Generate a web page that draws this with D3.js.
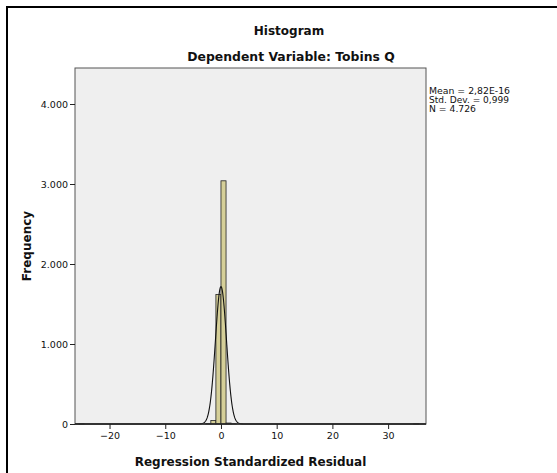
<!DOCTYPE html>
<html>
<head>
<meta charset="utf-8">
<script src="https://cdn.jsdelivr.net/npm/d3@7/dist/d3.min.js"></script>
<style>
  html, body { margin: 0; padding: 0; background: #fff; }
  svg { display: block; }
  text { font-family: "DejaVu Sans", sans-serif; fill: #111; }
</style>
</head>
<body>
<svg id="chart" width="557" height="473"></svg>
<script>
// Histogram bins: left edge of each bin (in residual units) and its frequency
const binWidth = 0.91;
const binStarts = [-25.48, -2.73, -1.82, -0.91, 0.0, 0.91, 1.82, 34.58];
const binCounts = [1, 4, 44, 1620, 3040, 12, 3, 2];

// Summary statistics shown in the legend
const statMean = 2.82e-16;
const statSD = 0.999;
const statN = 4726;
const statLabels = ["Mean = 2,82E-16", "Std. Dev. = 0,999", "N = 4.726"];

// Axis ticks
const xTicks = [-20, -10, 0, 10, 20, 30];
const yTicks = [0, 1000, 2000, 3000, 4000];
const yTickLabels = ["0", "1.000", "2.000", "3.000", "4.000"];

const svg = d3.select("#chart");
const plot = { left: 75, right: 426, top: 68, bottom: 424 };

const x = d3.scaleLinear().domain([-26.2, 36.8]).range([plot.left, plot.right]);
const y = d3.scaleLinear().domain([0, 4450]).range([plot.bottom, plot.top]);

// Outer frame
svg.append("rect")
  .attr("x", 7).attr("y", 7).attr("width", 700).attr("height", 700)
  .attr("fill", "none").attr("stroke", "#000").attr("stroke-width", 2);

// Plot background
svg.append("rect")
  .attr("x", plot.left).attr("y", plot.top)
  .attr("width", plot.right - plot.left).attr("height", plot.bottom - plot.top)
  .attr("fill", "#efefef");

// Bars
const bins = binStarts.map((s, i) => ({ x0: s, x1: s + binWidth, n: binCounts[i] }));
svg.append("g").selectAll("rect").data(bins).join("rect")
  .attr("x", d => x(d.x0))
  .attr("y", d => y(d.n))
  .attr("width", d => x(d.x1) - x(d.x0))
  .attr("height", d => y(0) - y(d.n))
  .attr("fill", "#d5cf98")
  .attr("stroke", "#222")
  .attr("stroke-width", 0.8);

// Fitted normal curve from the reported mean, SD and N
const pdf = v => Math.exp(-0.5 * ((v - statMean) / statSD) ** 2) / (statSD * Math.sqrt(2 * Math.PI));
const curvePts = d3.range(-26.2, 36.8001, 0.05).map(v => [v, statN * binWidth * pdf(v)]);
svg.append("path")
  .datum(curvePts)
  .attr("fill", "none")
  .attr("stroke", "#111")
  .attr("stroke-width", 1.1)
  .attr("d", d3.line().x(d => x(d[0])).y(d => y(d[1])));

// Plot border
svg.append("rect")
  .attr("x", plot.left).attr("y", plot.top)
  .attr("width", plot.right - plot.left).attr("height", plot.bottom - plot.top)
  .attr("fill", "none").attr("stroke", "#555").attr("stroke-width", 1);
svg.append("line")
  .attr("x1", plot.left).attr("x2", plot.right)
  .attr("y1", plot.bottom).attr("y2", plot.bottom)
  .attr("stroke", "#222").attr("stroke-width", 1.3);

// X axis
const xAxis = svg.append("g")
  .attr("transform", `translate(0,${plot.bottom})`)
  .call(d3.axisBottom(x).tickValues(xTicks).tickSize(5).tickPadding(3)
    .tickFormat(d => d < 0 ? "\u2212" + Math.abs(d) : d));
xAxis.select(".domain").remove();
xAxis.selectAll("line").attr("stroke", "#222");
xAxis.selectAll("text").attr("font-size", "9.5px").attr("fill", "#111")
  .style("font-family", "'DejaVu Sans', sans-serif");

// Y axis
const yAxis = svg.append("g")
  .attr("transform", `translate(${plot.left},0)`)
  .call(d3.axisLeft(y).tickValues(yTicks).tickSize(5).tickPadding(2)
    .tickFormat((d, i) => yTickLabels[i]));
yAxis.select(".domain").remove();
yAxis.selectAll("line").attr("stroke", "#222");
yAxis.selectAll("text").attr("font-size", "9.5px").attr("fill", "#111")
  .style("font-family", "'DejaVu Sans', sans-serif");

// Titles
svg.append("text").attr("x", 289).attr("y", 35).attr("text-anchor", "middle")
  .attr("font-size", "12px").attr("font-weight", "bold").text("Histogram");
svg.append("text").attr("x", 291).attr("y", 61).attr("text-anchor", "middle")
  .attr("font-size", "12.4px").attr("font-weight", "bold").text("Dependent Variable: Tobins Q");

// Axis titles
svg.append("text").attr("x", (plot.left + plot.right) / 2).attr("y", 466)
  .attr("text-anchor", "middle").attr("font-size", "12px").attr("font-weight", "bold")
  .text("Regression Standardized Residual");
svg.append("text")
  .attr("transform", `translate(31,${(plot.top + plot.bottom) / 2}) rotate(-90)`)
  .attr("text-anchor", "middle").attr("font-size", "12px").attr("font-weight", "bold")
  .text("Frequency");

// Legend statistics
svg.append("g").selectAll("text").data(statLabels).join("text")
  .attr("x", 429).attr("y", (d, i) => 94 + i * 8.8)
  .attr("font-size", "9px")
  .attr("textLength", (d, i) => [81, 80, 47][i])
  .attr("lengthAdjust", "spacingAndGlyphs")
  .text(d => d);
</script>
</body>
</html>
